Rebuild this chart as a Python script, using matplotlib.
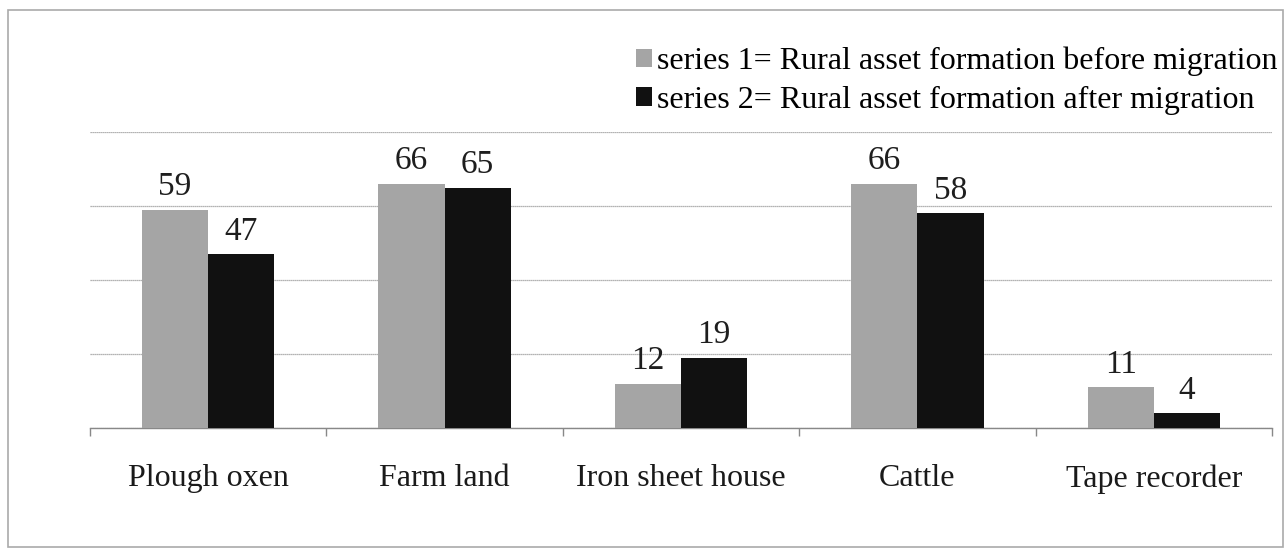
import matplotlib
matplotlib.use("Agg")
import matplotlib.pyplot as plt
import numpy as np
from matplotlib.patches import Rectangle

categories = ["Plough oxen", "Farm land", "Iron sheet house", "Cattle", "Tape recorder"]
series1 = [59, 66, 12, 66, 11]
series2 = [47, 65, 19, 58, 4]
labels = ["series 1= Rural asset formation before migration",
          "series 2= Rural asset formation after migration"]

plt.rcParams['font.family'] = ['Liberation Serif', 'DejaVu Serif']

fig = plt.figure(figsize=(12.85, 5.51), dpi=100)
ax = fig.add_axes([90/1285, 1 - 428/551, 1182/1285, 296/551])

x = np.arange(len(categories))
w = 0.28
b1 = ax.bar(x - w/2, series1, w, color="#a5a5a5", label=labels[0], zorder=3)
b2 = ax.bar(x + w/2, series2, w, color="#111111", label=labels[1], zorder=3)

for rect, v in zip(b1, series1):
    ax.text(rect.get_x() + rect.get_width()/2, v + 2.0, str(v), ha="center", va="bottom",
            fontsize=24, color="#1e1e1e")
for rect, v in zip(b2, series2):
    ax.text(rect.get_x() + rect.get_width()/2, v + 2.0, str(v), ha="center", va="bottom",
            fontsize=24, color="#1e1e1e")

ax.set_xlim(-0.5, len(categories) - 0.5)
ax.set_ylim(0, 80)
ax.set_yticks([0, 20, 40, 60, 80])
ax.yaxis.grid(True, color="#9a9a9a", linewidth=0.9, linestyle=(0, (1, 0.6)), zorder=0)
ax.tick_params(axis="y", left=False, labelleft=False)
ax.set_xticks(x)
ax.set_xticklabels(categories, fontsize=23, color="#1a1a1a")
ax.tick_params(axis="x", length=0, pad=26)
ax.set_xticks(np.arange(len(categories) + 1) - 0.5, minor=True)
ax.tick_params(axis="x", which="minor", length=6, color="#888888", width=1)
for s in ["top", "right", "left"]:
    ax.spines[s].set_visible(False)
ax.spines["bottom"].set_color("#888888")
ax.spines["bottom"].set_linewidth(1)

leg = fig.legend(loc="upper right", bbox_to_anchor=(1290/1285, 1 - 34/551), frameon=False,
                 fontsize=23, handlelength=0.5, handleheight=0.5, handletextpad=0.15,
                 labelspacing=0.3, borderaxespad=0)

fig.patches.append(Rectangle((8/1285, 4/551), 1275/1285, 537/551, transform=fig.transFigure,
                             fill=False, edgecolor="#aaaaaa", linewidth=1.2))

fig.savefig("out.png", dpi=100)
